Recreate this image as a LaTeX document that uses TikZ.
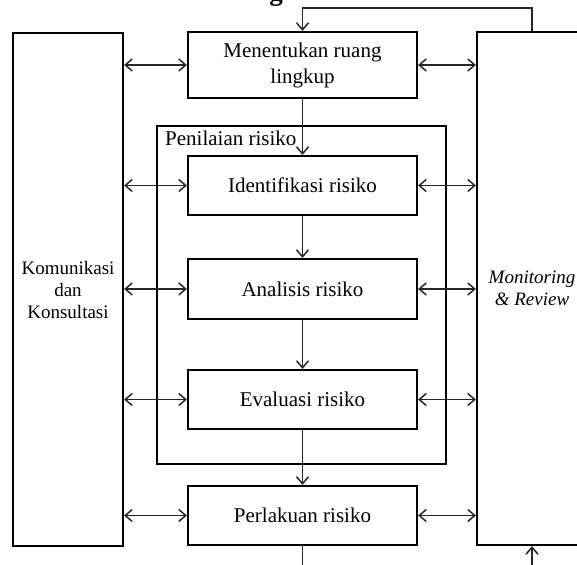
\documentclass[tikz,border=0pt]{standalone}
\usepackage{fontspec}
\setmainfont{Liberation Serif}
\usetikzlibrary{arrows.meta}
\begin{document}
\begin{tikzpicture}[x=1pt,y=-1pt,
  txt/.style={font=\fontsize{21}{22}\selectfont},
  sidetxt/.style={font=\fontsize{19}{22}\selectfont},
  box/.style={draw, line width=2.2pt, minimum width=229pt, inner sep=0pt, align=center, txt},
  conn/.style={line width=1.5pt, draw=black!85, -{Straight Barb[length=7pt,width=12pt,line width=1.5pt]}},
  both/.style={line width=1.5pt, draw=black!85, {Straight Barb[length=7pt,width=12pt,line width=1.5pt]}-{Straight Barb[length=7pt,width=12pt,line width=1.5pt]}},
  plain/.style={line width=1.5pt, draw=black!85}]
\clip (0,0) rectangle (577,564);
% cut-off heading
\node[font=\bfseries\fontsize{27}{30}\selectfont, anchor=base, inner sep=0pt] (hd) at (276,0.5) {g};
% boxes
\node[box, minimum height=66pt, font=\fontsize{21}{26}\selectfont] (scope) at (302.5,65) {Menentukan ruang\\lingkup};
\node[box, minimum width=289pt, minimum height=338pt] (pen) at (301.5,295) {};
\node[txt, anchor=base west, inner sep=0pt] (penlabel) at (165,146) {Penilaian risiko};
\node[box, minimum height=59pt] (ident) at (302.5,185.5) {Identifikasi risiko};
\node[box, minimum height=60pt] (anal) at (302.5,289) {Analisis risiko};
\node[box, minimum height=59pt] (eval) at (302.5,399.5) {Evaluasi risiko};
\node[box, minimum height=59pt] (treat) at (302.5,515.5) {Perlakuan risiko};
\node[box, sidetxt, minimum width=110pt, minimum height=513pt] (komm) at (68,289.5) {Komunikasi\\dan\\Konsultasi};
\node[box, minimum width=110pt, minimum height=513pt, font=\itshape\fontsize{19}{21.5}\selectfont] (mon) at (532,288.5) {Monitoring\\\& Review};
% horizontal connectors
\foreach \n in {scope,ident,anal,eval,treat}{
  \draw[both] (komm.east |- \n) -- (\n.west);
  \draw[both] (\n.east) -- (mon.west |- \n);
}
% vertical flow
\draw[conn] (scope.south) -- (ident.north);
\draw[conn] (ident.south) -- (anal.north);
\draw[conn] (anal.south) -- (eval.north);
\draw[conn] (eval.south) -- (treat.north);
\coordinate (outb) at (302.5,575);
\draw[plain] (treat.south) -- (outb);
\coordinate (inb) at (532,575);
\draw[conn] (inb) -- (mon.south);
% feedback loop
\draw[conn] (mon.north) -- ++(0,-23) -| (scope.north);
\end{tikzpicture}
\end{document}
